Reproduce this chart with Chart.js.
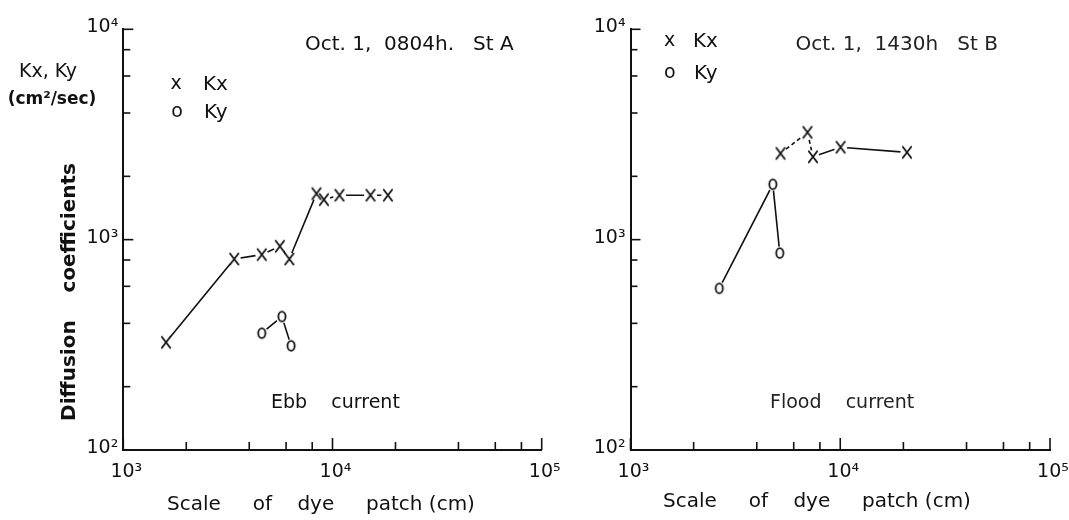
<!DOCTYPE html>
<html>
<head>
<meta charset="utf-8">
<script src="https://cdn.jsdelivr.net/npm/chart.js@4/dist/chart.umd.min.js"></script>
<style>
html,body{margin:0;padding:0;background:#fff;}
#wrap{position:relative;width:1069px;height:520px;overflow:hidden;background:#fff;}
.pane{position:absolute;top:0;height:520px;}
#paneA{left:0;width:572px;}
#paneB{left:530px;width:550px;}
</style>
</head>
<body>
<div id="wrap">
  <div class="pane" id="paneA"><canvas id="cA" width="572" height="520"></canvas></div>
  <div class="pane" id="paneB"><canvas id="cB" width="550" height="520"></canvas></div>
</div>
<script>
// ---------- axis ticks ----------
const xDecades = [1e3, 1e4, 1e5];
const xTickLabels = ['10³', '10⁴', '10⁵'];
const yDecades = [1e2, 1e3, 1e4];
const yTickLabels = ['10²', '10³', '10⁴'];
const xMinorTicks = [2e3, 4e3, 6e3, 8e3, 2e4, 4e4, 6e4, 8e4];
const yMinorTicks = [200, 400, 600, 800, 2000, 4000, 6000, 8000];

// ---------- Station A : Oct. 1, 0804h, ebb current ----------
const scaleA_Kx = [1600, 3390, 4590, 5600, 6220, 8380, 9100, 10800, 15200, 18400];
const valueA_Kx = [325, 809, 849, 930, 809, 1656, 1550, 1626, 1626, 1626];
const scaleA_Ky = [4590, 5730, 6340];
const valueA_Ky = [359, 431, 313];

// ---------- Station B : Oct. 1, 1430h, flood current ----------
const scaleB_Kx = [5190, 6980, 7410, 10040, 20800];
const valueB_Kx = [2570, 3236, 2477, 2750, 2600];
const scaleB_Ky = [2650, 4770, 5150];
const valueB_Ky = [587, 1832, 863];

// ---------- texts ----------
const legendKx = 'Kx';
const legendKy = 'Ky';
const yTitleTop = 'Kx, Ky';
const yTitleUnit = '(cm²/sec)';
const yTitleSide = 'Diffusion    coefficients';
const xTitle = 'Scale     of    dye     patch (cm)';
const titleA = 'Oct. 1,  0804h.   St A';
const titleB = 'Oct. 1,  1430h   St B';
const noteA = 'Ebb    current';
const noteB = 'Flood    current';

const INK = '#111';
const FONT = 'DejaVu Sans';

function makeGlyph(kind) {
  const c = document.createElement('canvas');
  c.width = 14; c.height = 16;
  const g = c.getContext('2d');
  g.strokeStyle = INK; g.lineWidth = 1.8; g.lineCap = 'round';
  g.beginPath();
  if (kind === 'x') {
    g.moveTo(2.8, 2.5); g.lineTo(11.2, 13.5);
    g.moveTo(11.2, 2.5); g.lineTo(2.8, 13.5);
    g.stroke();
  } else {
    g.ellipse(7, 8, 3.6, 4.8, 0, 0, Math.PI * 2);
    g.fillStyle = '#fff'; g.fill(); g.stroke();
  }
  return c;
}
const glyphX = makeGlyph('x');
const glyphO = makeGlyph('o');

function pts(xs, ys) { return xs.map((x, i) => ({ x: x, y: ys[i] })); }

function seriesSets(xs, ys, glyph, dashSegs) {
  const d = pts(xs, ys);
  return [
    { data: d, order: 3, borderColor: INK, borderWidth: 1.6, pointRadius: 0, fill: false, tension: 0,
      segment: { borderDash: c => (dashSegs && dashSegs.includes(c.p0DataIndex)) ? [4, 3] : undefined } },
    { data: d, order: 2, showLine: false, pointStyle: 'circle', pointRadius: 6.5,
      pointBackgroundColor: '#fff', pointBorderWidth: 0, pointBorderColor: '#fff' },
    { data: d, order: 1, showLine: false, pointStyle: glyph, pointRadius: 5 }
  ];
}

const tickMarks = {
  id: 'tickMarks',
  afterDraw(chart) {
    const { ctx, chartArea: a, scales: { x, y } } = chart;
    ctx.save();
    ctx.strokeStyle = INK; ctx.lineWidth = 1.6;
    const drawX = (vals, len) => vals.forEach(v => {
      const p = x.getPixelForValue(v);
      ctx.beginPath(); ctx.moveTo(p, a.bottom); ctx.lineTo(p, a.bottom - len); ctx.stroke();
    });
    const drawY = (vals, len) => vals.forEach(v => {
      const p = y.getPixelForValue(v);
      ctx.beginPath(); ctx.moveTo(a.left, p); ctx.lineTo(a.left + len, p); ctx.stroke();
    });
    drawX(xDecades, 12); drawX(xMinorTicks, 8);
    drawY(yDecades, 10); drawY(yMinorTicks, 7);
    ctx.restore();
  }
};

const notes = {
  id: 'notes',
  afterDraw(chart, args, opts) {
    const ctx = chart.ctx;
    (opts.items || []).forEach(n => {
      ctx.save();
      ctx.fillStyle = n.color || INK;
      ctx.font = n.font;
      ctx.textAlign = n.align || 'left';
      ctx.textBaseline = 'middle';
      ctx.translate(n.x, n.y);
      if (n.rot) ctx.rotate(n.rot);
      ctx.fillText(n.text, 0, 0);
      ctx.restore();
    });
  }
};

function makeChart(id, datasets, lay, items) {
  return new Chart(document.getElementById(id), {
    type: 'line',
    data: { datasets: datasets },
    options: {
      responsive: false, animation: false, devicePixelRatio: 1,
      layout: { padding: { left: 0, top: lay.top, right: lay.right, bottom: 0 } },
      plugins: { legend: { display: false }, tooltip: { enabled: false }, notes: { items: items } },
      scales: {
        x: {
          type: 'logarithmic', position: 'bottom', min: 1e3, max: 1e5,
          afterBuildTicks: s => { s.ticks = xDecades.map(v => ({ value: v })); },
          afterFit: s => { s.height = lay.xHeight; },
          grid: { display: true, drawOnChartArea: false, drawTicks: false },
          border: { display: true, color: INK, width: 2 },
          ticks: { callback: (v, i) => xTickLabels[i], font: { family: FONT, size: 19 }, color: INK,
                   padding: 11, labelOffset: 3, maxRotation: 0, autoSkip: false }
        },
        y: {
          type: 'logarithmic', position: 'left', min: 1e2, max: 1e4,
          afterBuildTicks: s => { s.ticks = yDecades.map(v => ({ value: v })); },
          afterFit: s => { s.width = lay.yWidth; },
          grid: { display: true, drawOnChartArea: false, drawTicks: false },
          border: { display: true, color: INK, width: 2 },
          ticks: { callback: (v, i) => yTickLabels[i], font: { family: FONT, size: 19 }, color: INK,
                   padding: 5, labelOffset: -2, autoSkip: false }
        }
      }
    },
    plugins: [tickMarks, notes]
  });
}

// Panel A
makeChart('cA',
  [].concat(seriesSets(scaleA_Kx, valueA_Kx, glyphX), seriesSets(scaleA_Ky, valueA_Ky, glyphO)),
  { top: 29.3, right: 572 - 541.7, xHeight: 70, yWidth: 123.3 },
  [
    { text: yTitleTop, x: 48, y: 72, font: '19px ' + FONT, align: 'center' },
    { text: yTitleUnit, x: 52, y: 100, font: 'bold 17px ' + FONT, align: 'center' },
    { text: yTitleSide, x: 70, y: 292, font: 'bold 20px ' + FONT, align: 'center', rot: -Math.PI / 2 },
    { text: 'x', x: 176, y: 84, font: '19px ' + FONT, align: 'center' },
    { text: legendKx, x: 203, y: 85, font: '20px ' + FONT },
    { text: 'o', x: 177, y: 112, font: '19px ' + FONT, align: 'center' },
    { text: legendKy, x: 204, y: 113, font: '20px ' + FONT },
    { text: titleA, x: 305, y: 45, font: '20px ' + FONT },
    { text: noteA, x: 271, y: 403, font: '19px ' + FONT },
    { text: xTitle, x: 321, y: 505, font: '20px ' + FONT, align: 'center' }
  ]);

// Panel B (canvas offset 530px)
makeChart('cB',
  [].concat(seriesSets(scaleB_Kx, valueB_Kx, glyphX, [0, 1]), seriesSets(scaleB_Ky, valueB_Ky, glyphO)),
  { top: 29.3, right: 550 - 520, xHeight: 70, yWidth: 100.5 },
  [
    { text: 'x', x: 139.7, y: 41, font: '19px ' + FONT, align: 'center' },
    { text: legendKx, x: 163, y: 42, font: '20px ' + FONT },
    { text: 'o', x: 139.7, y: 73, font: '19px ' + FONT, align: 'center' },
    { text: legendKy, x: 164, y: 74, font: '20px ' + FONT },
    { text: titleB, x: 265.5, y: 45, font: '20px ' + FONT, color: '#222' },
    { text: noteB, x: 240, y: 403, font: '19px ' + FONT, color: '#222' },
    { text: xTitle, x: 287, y: 502, font: '20px ' + FONT, align: 'center' }
  ]);
</script>
</body>
</html>
